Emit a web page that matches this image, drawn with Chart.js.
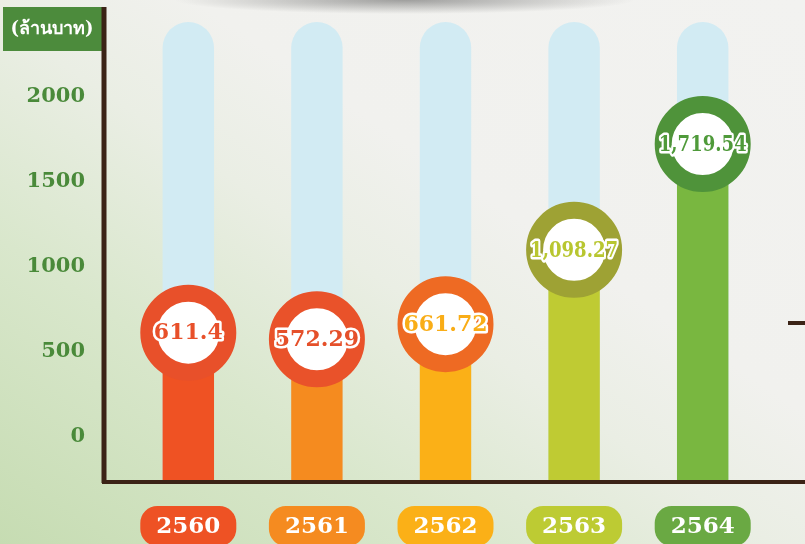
<!DOCTYPE html>
<html>
<head>
<meta charset="utf-8">
<script src="https://cdn.jsdelivr.net/npm/chart.js@4.4.1/dist/chart.umd.min.js"></script>
<style>
  html, body { margin: 0; padding: 0; }
  body {
    width: 805px; height: 544px; overflow: hidden;
    background:
      radial-gradient(ellipse 230px 14px at 405px 0px, rgba(90,90,90,0.55), rgba(90,90,90,0) 100%),
      linear-gradient(to top right, #c6dcb2 0%, #d9e7cc 28%, #eaeee4 48%, #f1f1ee 62%, #f2f2f0 100%);
  }
  canvas { display: block; }
</style>
</head>
<body>
<canvas id="revenueChart" width="805" height="544"></canvas>
<script>
const years = ['2560', '2561', '2562', '2563', '2564'];
const revenue = [611.4, 572.29, 661.72, 1098.27, 1719.54];
const valueLabels = ['611.4', '572.29', '661.72', '1,098.27', '1,719.54'];
const yTicks = [0, 500, 1000, 1500, 2000];
const unitLabel = '(ล้านบาท)';

const barColors = ['#ef5223', '#f58b1f', '#fbb017', '#bfcb33', '#79b740'];
const ringColors = ['#e8502a', '#e9522a', '#ee6a23', '#9ea234', '#4f933a'];
const textColors = ['#e8502a', '#e5502a', '#f9ad17', '#b8c630', '#4f9a3a'];
const pillColors = ['#ee5224', '#f58b20', '#fbb017', '#bdcb33', '#6aa943'];

const yMin = -260;
const yMax = 2437;
const trackValues = years.map(() => yMax);

const serif = '"DejaVu Serif", "Liberation Serif", serif';
const axisColor = '#3b2316';

// axis lines, unit box and the small dash on the right
const decorPlugin = {
  id: 'decor',
  afterDatasetsDraw(chart) {
    const ctx = chart.ctx;
    const area = chart.chartArea;
    ctx.save();
    ctx.fillStyle = '#4c8b3c';
    ctx.fillRect(3, 7, 99, 44);
    ctx.fillStyle = '#ffffff';
    ctx.font = 'bold 18px ' + serif;
    ctx.textAlign = 'center';
    ctx.textBaseline = 'middle';
    ctx.fillText(unitLabel, 52, 29);

    ctx.strokeStyle = axisColor;
    ctx.lineWidth = 5;
    ctx.beginPath();
    ctx.moveTo(104, 7);
    ctx.lineTo(104, area.bottom + 2);
    ctx.stroke();
    ctx.lineWidth = 4;
    ctx.beginPath();
    ctx.moveTo(102, area.bottom + 1);
    ctx.lineTo(805, area.bottom + 1);
    ctx.stroke();
    ctx.beginPath();
    ctx.moveTo(788, 323);
    ctx.lineTo(805, 323);
    ctx.stroke();
    ctx.restore();
  }
};

// values inside the rings
const valueLabelPlugin = {
  id: 'valueLabels',
  afterDatasetsDraw(chart) {
    const ctx = chart.ctx;
    const meta = chart.getDatasetMeta(2);
    ctx.save();
    ctx.font = 'bold 22px ' + serif;
    ctx.textAlign = 'center';
    ctx.textBaseline = 'middle';
    ctx.lineJoin = 'round';
    meta.data.forEach((pt, i) => {
      ctx.lineWidth = 5;
      ctx.strokeStyle = '#ffffff';
      ctx.strokeText(valueLabels[i], pt.x, pt.y + 1, 88);
      ctx.fillStyle = textColors[i];
      ctx.fillText(valueLabels[i], pt.x, pt.y + 1, 88);
    });
    ctx.restore();
  }
};

// year labels in rounded pills
const yearPillPlugin = {
  id: 'yearPills',
  afterDraw(chart) {
    const ctx = chart.ctx;
    const xs = chart.scales.x;
    ctx.save();
    ctx.font = 'bold 23px ' + serif;
    ctx.textAlign = 'center';
    ctx.textBaseline = 'middle';
    years.forEach((y, i) => {
      const x = xs.getPixelForValue(i);
      ctx.fillStyle = pillColors[i];
      ctx.beginPath();
      ctx.roundRect(x - 48, 506, 96, 40, 17);
      ctx.fill();
      ctx.fillStyle = '#ffffff';
      ctx.fillText(y, x, 527);
    });
    ctx.restore();
  }
};

const ctx = document.getElementById('revenueChart').getContext('2d');

new Chart(ctx, {
  type: 'bar',
  data: {
    labels: years,
    datasets: [
      {
        data: trackValues,
        base: yMin,
        backgroundColor: '#d2ebf3',
        borderRadius: { topLeft: 26, topRight: 26 },
        borderSkipped: 'start',
        grouped: false,
        barPercentage: 0.4,
        categoryPercentage: 1,
        order: 3
      },
      {
        data: revenue,
        base: yMin,
        backgroundColor: barColors,
        grouped: false,
        barPercentage: 0.4,
        categoryPercentage: 1,
        order: 2
      },
      {
        type: 'line',
        data: revenue,
        showLine: false,
        clip: false,
        pointRadius: 39.5,
        pointHoverRadius: 39.5,
        pointBorderWidth: 17,
        pointBackgroundColor: '#ffffff',
        pointBorderColor: ringColors,
        order: 1
      }
    ]
  },
  options: {
    responsive: false,
    animation: false,
    layout: {
      autoPadding: false,
      padding: { left: 0, right: 38, top: 22, bottom: 63 }
    },
    plugins: {
      legend: { display: false },
      tooltip: { enabled: false }
    },
    scales: {
      x: {
        display: false
      },
      y: {
        min: yMin,
        max: yMax,
        afterBuildTicks: scale => {
          scale.ticks = yTicks.map(v => ({ value: v }));
        },
        afterFit: scale => {
          scale.width = 124;
          scale.paddingTop = 0;
          scale.paddingBottom = 0;
        },
        grid: { display: false, drawTicks: false, tickLength: 0 },
        border: { display: false },
        ticks: {
          padding: 39,
          color: '#4a8a3a',
          font: { family: serif, size: 21, weight: 'bold' },
          callback: v => String(v)
        }
      }
    }
  },
  plugins: [decorPlugin, valueLabelPlugin, yearPillPlugin]
});
</script>
</body>
</html>
